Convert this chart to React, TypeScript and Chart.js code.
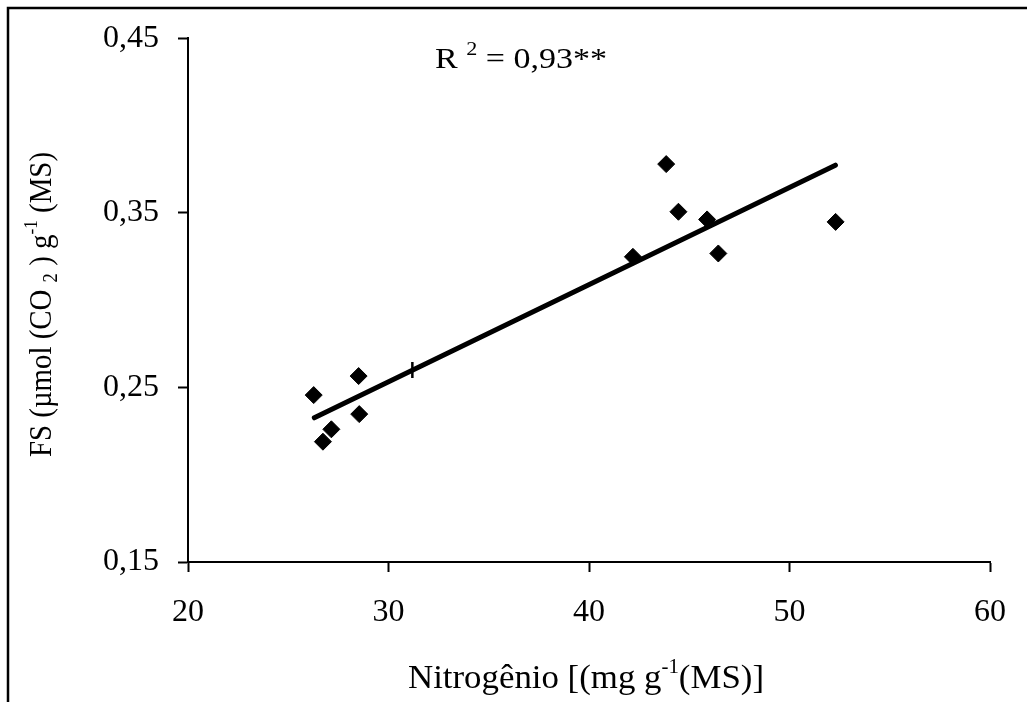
import React, { useEffect, useRef } from "react";
import { Chart, registerables } from "chart.js";

Chart.register(...registerables);

// Data
const nitrogen = [26.27, 28.51, 28.54, 27.15, 26.73, 43.85, 44.46, 45.89, 42.19, 46.45, 52.3];
const fsValues = [0.2456, 0.2565, 0.2347, 0.226, 0.2189, 0.3779, 0.3506, 0.3462, 0.3248, 0.3267, 0.3448];
const trendX = [26.3, 52.29];
const trendY = [0.2326, 0.3773];
const markX = [31.19];
const markY = [0.2599];
const xTicks = [20, 30, 40, 50, 60];
const yTicks = [0.15, 0.25, 0.35, 0.45];
const r2Label = "0,93**";

const FONT = '"Liberation Serif", "Times New Roman", serif';

type Seg = { t: string; s?: number; dy?: number };

function drawRich(
  ctx: CanvasRenderingContext2D,
  segs: Seg[],
  cx: number,
  baseY: number,
  size: number,
  targetW: number,
  rot: number
) {
  ctx.save();
  ctx.translate(cx, baseY);
  if (rot) ctx.rotate(rot);
  let w = 0;
  const widths: number[] = [];
  for (const g of segs) {
    ctx.font = `${size * (g.s ?? 1)}px ${FONT}`;
    const mw = ctx.measureText(g.t).width;
    widths.push(mw);
    w += mw;
  }
  const k = targetW / w;
  ctx.scale(k, 1);
  ctx.textAlign = "left";
  ctx.textBaseline = "alphabetic";
  ctx.fillStyle = "#000";
  let x = -w / 2;
  segs.forEach((g, i) => {
    ctx.font = `${size * (g.s ?? 1)}px ${FONT}`;
    ctx.fillText(g.t, x, (g.dy ?? 0) * size);
    x += widths[i];
  });
  ctx.restore();
}

const decorPlugin = {
  id: "decor",
  afterDraw(chart: any) {
    const ctx: CanvasRenderingContext2D = chart.ctx;
    // frame
    ctx.save();
    ctx.strokeStyle = "#000";
    ctx.lineWidth = 2.5;
    ctx.beginPath();
    ctx.moveTo(8, 702);
    ctx.lineTo(8, 8);
    ctx.lineTo(1027, 8);
    ctx.stroke();
    ctx.restore();

    drawRich(
      ctx,
      [{ t: "R " }, { t: "2", s: 0.65, dy: -0.45 }, { t: " = " + r2Label }],
      521,
      68,
      30,
      172,
      0
    );
    drawRich(
      ctx,
      [{ t: "Nitrogênio [(mg g" }, { t: "-1", s: 0.6, dy: -0.45 }, { t: "(MS)]" }],
      586,
      688,
      34,
      356,
      0
    );
    drawRich(
      ctx,
      [
        { t: "FS (µmol (CO " },
        { t: "2", s: 0.65, dy: 0.2 },
        { t: " ) g" },
        { t: "-1", s: 0.6, dy: -0.45 },
        { t: " (MS)" },
      ],
      51,
      304.5,
      32,
      305,
      -Math.PI / 2
    );
  },
};

export default function App() {
  const ref = useRef<HTMLCanvasElement | null>(null);
  useEffect(() => {
    if (!ref.current) return;
    const pts = nitrogen.map((x, i) => ({ x, y: fsValues[i] }));
    const trend = trendX.map((x, i) => ({ x, y: trendY[i] }));
    const mark = markX.map((x, i) => ({ x, y: markY[i] }));
    const tickFont = { family: FONT, size: 32 };
    const chart = new Chart(ref.current, {
      type: "scatter",
      data: {
        datasets: [
          {
            data: pts,
            pointStyle: "rectRot",
            pointRadius: 8.5,
            pointBorderWidth: 1,
            backgroundColor: "#000",
            borderColor: "#000",
            showLine: false,
          },
          {
            data: trend,
            showLine: true,
            pointRadius: 0,
            borderWidth: 5,
            borderColor: "#000",
            borderCapStyle: "round",
          } as any,
          {
            data: mark,
            pointStyle: "line",
            rotation: 90,
            pointRadius: 8,
            pointBorderWidth: 2.5,
            borderColor: "#000",
            backgroundColor: "#000",
            showLine: false,
          } as any,
        ],
      },
      options: {
        animation: false,
        responsive: false,
        devicePixelRatio: 1,
        layout: { padding: { top: 38, right: 33, bottom: 0, left: 0 } },
        plugins: { legend: { display: false }, tooltip: { enabled: false } },
        scales: {
          x: {
            type: "linear",
            min: 20,
            max: 60,
            afterBuildTicks: (s: any) => {
              s.ticks = xTicks.map((v) => ({ value: v }));
            },
            afterFit: (s: any) => {
              s.height = 140;
            },
            ticks: {
              font: tickFont,
              color: "#000",
              padding: 21,
              maxRotation: 0,
              autoSkip: false,
              callback: (v: any) => String(v),
            },
            grid: {
              display: true,
              drawOnChartArea: false,
              drawTicks: true,
              tickLength: 10,
              tickWidth: 2,
              tickColor: "#000",
            },
            border: { display: true, color: "#000", width: 2 },
          },
          y: {
            type: "linear",
            min: 0.15,
            max: 0.45,
            afterBuildTicks: (s: any) => {
              s.ticks = yTicks.map((v) => ({ value: v }));
            },
            afterFit: (s: any) => {
              s.width = 188;
            },
            ticks: {
              font: tickFont,
              color: "#000",
              padding: 19,
              autoSkip: false,
              callback: (v: any) => Number(v).toFixed(2).replace(".", ","),
            },
            grid: {
              display: true,
              drawOnChartArea: false,
              drawTicks: true,
              tickLength: 10,
              tickWidth: 2,
              tickColor: "#000",
            },
            border: { display: true, color: "#000", width: 2 },
          },
        },
      },
      plugins: [decorPlugin],
    });
    return () => chart.destroy();
  }, []);
  return (
    <div style={{ position: "absolute", left: 0, top: 0, width: 1027, height: 702, background: "#fff" }}>
      <canvas ref={ref} width={1027} height={702} style={{ display: "block", width: 1027, height: 702 }} />
    </div>
  );
}
